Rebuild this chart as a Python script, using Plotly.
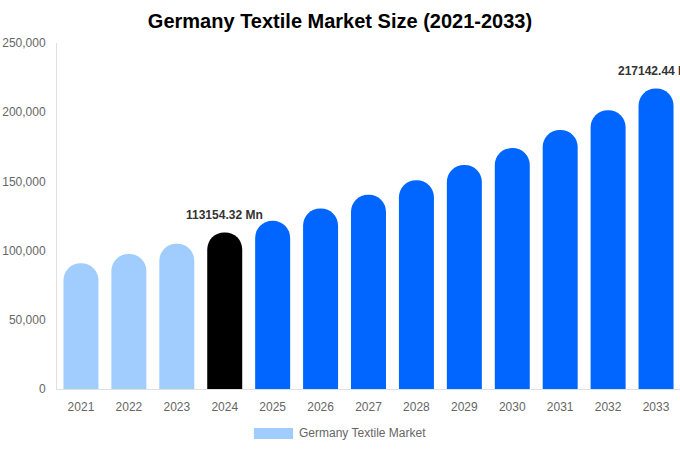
import plotly.graph_objects as go

years = ["2021", "2022", "2023", "2024", "2025", "2026", "2027",
         "2028", "2029", "2030", "2031", "2032", "2033"]
market_size = [90800, 97500, 104900, 113154.32, 121500, 130400, 140300,
               150900, 161900, 174100, 187200, 201400, 217142.44]
bar_colors = ["#a0cdfd", "#a0cdfd", "#a0cdfd", "#000000", "#0066ff", "#0066ff", "#0066ff",
              "#0066ff", "#0066ff", "#0066ff", "#0066ff", "#0066ff", "#0066ff"]
labelled = {"2024": "113154.32 Mn", "2033": "217142.44 Mn"}

font = "Liberation Sans, Arial, sans-serif"

fig = go.Figure(go.Bar(
    x=years,
    y=market_size,
    marker=dict(color=bar_colors, cornerradius="50%", line=dict(width=0)),
    name="Germany Textile Market",
    showlegend=False,
    hoverinfo="x+y",
))

# value labels; x given as category index so "2024" isn't read as position 2024
for i, (yr, val) in enumerate(zip(years, market_size)):
    if yr in labelled:
        fig.add_annotation(x=i, y=val, text="<b>%s</b>" % labelled[yr], showarrow=False,
                           yanchor="bottom", yshift=8,
                           font=dict(family=font, size=12, color="#333333"))

# legend swatch drawn by hand (wide rectangle like the original)
fig.add_shape(type="rect", xref="paper", yref="paper", x0=0.316, x1=0.379, y0=-0.1445, y1=-0.1127,
              fillcolor="#a0cdfd", line=dict(width=0))
fig.add_annotation(xref="paper", yref="paper", x=0.385, y=-0.128, text="Germany Textile Market",
                   showarrow=False, xanchor="left", yanchor="middle",
                   font=dict(family=font, size=12, color="#666666"))

fig.update_layout(
    width=680, height=450,
    margin=dict(l=57, r=0, t=43, b=61, autoexpand=False),
    paper_bgcolor="white", plot_bgcolor="white",
    bargap=0.27,
    title=dict(text="<b>Germany Textile Market Size (2021-2033)</b>", x=0.5, xref="container",
               xanchor="center", y=0.953, yanchor="middle",
               font=dict(family=font, size=20, color="#000000")),
    font=dict(family=font, size=12, color="#666666"),
)
fig.update_xaxes(type="category", range=[-0.5, len(years) - 0.5], showline=True,
                 linecolor="#e0e0e0", linewidth=1, showgrid=False, ticklabelstandoff=7,
                 ticks="", automargin=False, tickfont=dict(color="#666666", size=12))
fig.update_yaxes(range=[0, 250000], dtick=50000, tickformat=",", showgrid=False,
                 showline=True, linecolor="#e0e0e0", linewidth=1, zeroline=False, automargin=False,
                 ticks="", ticklabelstandoff=8, tickfont=dict(color="#666666", size=12))

# drop the browser's default page margin so the chart sits at the window's corner
fig.write_html("out.html", config={"displayModeBar": False},
               post_script="document.body.style.margin = '0';")
